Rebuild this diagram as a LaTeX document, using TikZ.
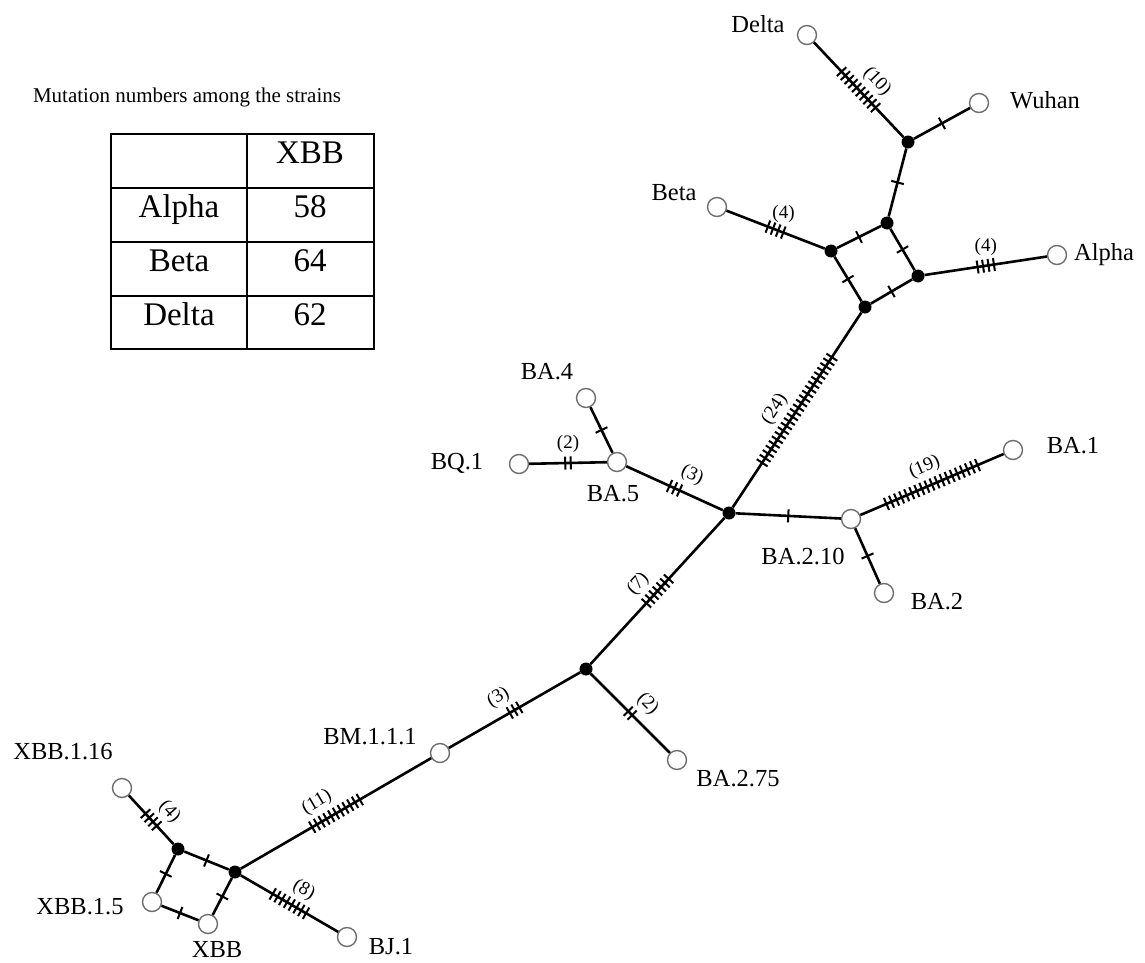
\documentclass[tikz,border=0pt]{standalone}
\usepackage{fontspec}
\setmainfont{Liberation Serif}
\usetikzlibrary{decorations.markings}
\definecolor{ring-gray}{HTML}{6E6E6E}

\begin{document}
\begin{tikzpicture}[x=1pt, y=-1pt,
      every node/.style={font=\fontsize{24.5}{28}\selectfont},
      strain/.style={circle, draw=ring-gray, fill=white, line width=1.4pt,
                     minimum size=19pt, inner sep=0pt},
      hub/.style={circle, fill=black, minimum size=13pt, inner sep=0pt},
      link/.style={line width=2.6pt},
      cnt/.style={font=\fontsize{19}{21}\selectfont, inner sep=1pt, above=8pt},
      cell/.style={font=\fontsize{33}{36}\selectfont, text height=0.7em, text depth=0.22em},
      grid/.style={line width=2.2pt},
      mut/.style={postaction={decorate, decoration={markings,
          mark=at position 0.5 with {\foreach \k in {1,...,#1}
            \draw[line width=2pt] ({(\k-(#1+1)/2)*5.5pt},-6.5pt) -- ++(0pt,13pt);}}}}]
  \useasboundingbox (0,0) rectangle (1145,963);

  % table
  \node[font=\fontsize{21}{24}\selectfont] (title) at (187,97) {Mutation numbers among the strains};
  \draw[grid] (111,134) rectangle (374,349);
  \foreach \y in {188,242,296}
    \draw[grid] (111,\y) -- (374,\y);
  \draw[grid] (247,134) -- (247,349);
  \node[cell] (head) at (310,161) {XBB};
  \foreach \name/\val [count=\i] in {Alpha/58,Beta/64,Delta/62}{
    \node[cell] (row-\i) at (179,{161+54*\i}) {\name};
    \node[cell] (val-\i) at (310,{161+54*\i}) {\val};
  }

  % sampled strains
  \node[strain] (delta) at (807,35) {};
  \node[strain] (wuhan) at (979,103) {};
  \node[strain] (beta) at (717,207) {};
  \node[strain] (alpha) at (1057,255) {};
  \node[strain] (ba4) at (586,398) {};
  \node[strain] (bq1) at (519,464) {};
  \node[strain] (ba5) at (617,462) {};
  \node[strain] (ba1) at (1013,450) {};
  \node[strain] (ba210) at (851,519) {};
  \node[strain] (ba2) at (884,593) {};
  \node[strain] (ba275) at (677,760) {};
  \node[strain] (bm111) at (440,753) {};
  \node[strain] (xbb116) at (122,788) {};
  \node[strain] (xbb15) at (152,902) {};
  \node[strain] (xbb) at (208,924) {};
  \node[strain] (bj1) at (347,937) {};

  % median vectors
  \node[hub] (m1) at (908,142) {};
  \node[hub] (m2) at (887,223) {};
  \node[hub] (m3) at (831,251) {};
  \node[hub] (m4) at (918,276) {};
  \node[hub] (m5) at (865,307) {};
  \node[hub] (m6) at (729,513) {};
  \node[hub] (m7) at (586,669) {};
  \node[hub] (m8) at (178,849) {};
  \node[hub] (m9) at (235,872) {};

  % strain names
  \node (delta-t) at (758,24) {Delta};
  \node (wuhan-t) at (1045,100) {Wuhan};
  \node (beta-t) at (674,193) {Beta};
  \node (alpha-t) at (1104,255) {Alpha};
  \node (ba4-t) at (547,372) {BA.4};
  \node (bq1-t) at (457,463) {BQ.1};
  \node (ba5-t) at (613,494) {BA.5};
  \node (ba1-t) at (1073,446) {BA.1};
  \node (ba210-t) at (803,557) {BA.2.10};
  \node (ba2-t) at (937,602) {BA.2};
  \node (ba275-t) at (738,779) {BA.2.75};
  \node (bm111-t) at (370,737) {BM.1.1.1};
  \node (xbb116-t) at (63,752) {XBB.1.16};
  \node (xbb15-t) at (80,907) {XBB.1.5};
  \node (xbb-t) at (217,950) {XBB};
  \node (bj1-t) at (391,947) {BJ.1};

  % links with mutation ticks
  \draw[link, mut=10] (delta) -- node[cnt, sloped, pos=0.55] (c-delta) {(10)} (m1);
  \draw[link, mut=1] (m1) -- (wuhan);
  \draw[link, mut=1] (m1) -- (m2);
  \draw[link, mut=4] (beta) -- node[cnt, pos=0.58] (c-beta) {(4)} (m3);
  \draw[link, mut=1] (m3) -- (m2);
  \draw[link, mut=1] (m2) -- (m4);
  \draw[link, mut=1] (m3) -- (m5);
  \draw[link, mut=1] (m5) -- (m4);
  \draw[link, mut=4] (m4) -- node[cnt] (c-alpha) {(4)} (alpha);
  \draw[link, mut=24] (m6) -- node[cnt, sloped, pos=0.45] (c-m5) {(24)} (m5);
  \draw[link, mut=1] (ba4) -- (ba5);
  \draw[link, mut=2] (bq1) -- node[cnt] (c-bq1) {(2)} (ba5);
  \draw[link, mut=3] (ba5) -- node[cnt, sloped, pos=0.6] (c-ba5) {(3)} (m6);
  \draw[link, mut=1] (m6) -- (ba210);
  \draw[link, mut=19] (ba210) -- node[cnt, sloped] (c-ba1) {(19)} (ba1);
  \draw[link, mut=1] (ba210) -- (ba2);
  \draw[link, mut=7] (m7) -- node[cnt, sloped, pos=0.46] (c-m6) {(7)} (m6);
  \draw[link, mut=3] (bm111) -- node[cnt, sloped, pos=0.45] (c-m7) {(3)} (m7);
  \draw[link, mut=2] (m7) -- node[cnt, sloped, pos=0.55] (c-ba275) {(2)} (ba275);
  \draw[link, mut=11] (m9) -- node[cnt, sloped, pos=0.45] (c-bm111) {(11)} (bm111);
  \draw[link, mut=8] (m9) -- node[cnt, sloped, pos=0.55] (c-bj1) {(8)} (bj1);
  \draw[link, mut=4] (xbb116) -- node[cnt, sloped, pos=0.6] (c-xbb116) {(4)} (m8);
  \draw[link, mut=1] (m8) -- (m9);
  \draw[link, mut=1] (m8) -- (xbb15);
  \draw[link, mut=1] (xbb15) -- (xbb);
  \draw[link, mut=1] (xbb) -- (m9);
\end{tikzpicture}
\end{document}
